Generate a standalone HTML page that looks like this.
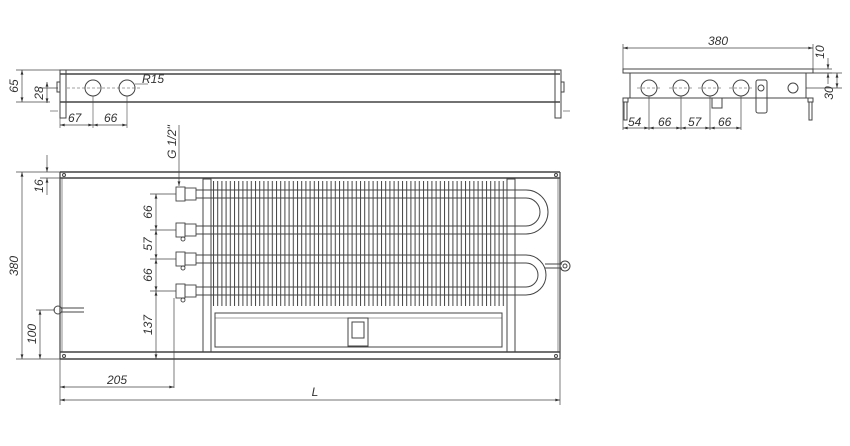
<!DOCTYPE html>
<html><head><meta charset="utf-8"><style>
html,body{margin:0;padding:0;background:#fff;width:850px;height:446px;overflow:hidden}
svg{display:block}
text{font-family:"Liberation Sans",sans-serif;font-style:italic;font-size:12px;fill:#333}
</style></head><body>
<svg width="850" height="446" viewBox="0 0 850 446" xmlns="http://www.w3.org/2000/svg">
<defs>
<marker id="a" viewBox="0 0 10 6" refX="10" refY="3" markerWidth="8" markerHeight="4" orient="auto-start-reverse"><path d="M0,0L10,3L0,6z" fill="#333"/></marker>
<pattern id="fins" x="213" y="0" width="4.2" height="10" patternUnits="userSpaceOnUse"><rect x="0" y="0" width="1" height="10" fill="#444"/></pattern>
</defs>
<rect x="213" y="181" width="293" height="125" fill="url(#fins)"/>
<g stroke="#444" fill="none" stroke-width="1">
<!-- top elevation -->
<line x1="60" y1="70" x2="560" y2="70"/>
<line x1="60" y1="74" x2="560" y2="74" stroke-width="1.6"/>
<line x1="60" y1="102" x2="560" y2="102" stroke-width="1.6"/>
<rect x="60" y="70" width="6" height="48"/>
<rect x="555" y="70" width="6" height="48"/>
<rect x="57" y="82" width="3" height="10"/><rect x="561" y="82" width="3" height="10"/>
<circle cx="93" cy="88" r="8"/><circle cx="127" cy="88" r="8"/>
<line x1="67" y1="88" x2="140" y2="88" stroke-dasharray="3,2" stroke-width="0.6"/>
<line x1="93" y1="96" x2="93" y2="128" stroke-width="0.6"/><line x1="127" y1="96" x2="127" y2="128" stroke-width="0.6"/>
<line x1="60" y1="118" x2="60" y2="128" stroke-width="0.6"/>
<line x1="135" y1="84" x2="148" y2="84" stroke-width="0.6"/>
<line x1="50" y1="111" x2="58" y2="111" stroke-width="0.6"/><line x1="563" y1="111" x2="570" y2="111" stroke-width="0.6"/>
<g stroke-width="0.7">
<line x1="16" y1="70" x2="60" y2="70"/><line x1="16" y1="102" x2="50" y2="102"/>
<line x1="22" y1="70" x2="22" y2="102" marker-start="url(#a)" marker-end="url(#a)"/>
<line x1="40" y1="88" x2="58" y2="88"/>
<line x1="47" y1="82" x2="47" y2="103" marker-start="url(#a)" marker-end="url(#a)"/>
<line x1="60" y1="125" x2="93" y2="125" marker-start="url(#a)" marker-end="url(#a)"/>
<line x1="93" y1="125" x2="127" y2="125" marker-start="url(#a)" marker-end="url(#a)"/>
</g>
<!-- side view -->
<rect x="623" y="69" width="190" height="4"/>
<rect x="630" y="73" width="176" height="25"/>
<line x1="623" y1="98" x2="813" y2="98"/>
<rect x="623" y="98" width="5" height="4"/><rect x="808" y="98" width="5" height="4"/>
<rect x="624" y="102" width="3" height="18"/><rect x="809" y="102" width="3" height="18"/>
<circle cx="649" cy="88" r="8"/><circle cx="681" cy="88" r="8"/><circle cx="710" cy="88" r="8"/><circle cx="741" cy="88" r="8"/>
<path d="M637 88H661M669 88H693M698 88H722M729 88H753" stroke-dasharray="3,2" stroke-width="0.6"/>
<circle cx="793" cy="88" r="5"/>
<rect x="712" y="98" width="10" height="10"/>
<rect x="756" y="80" width="11" height="33" rx="2"/><circle cx="761" cy="88" r="3"/>
<g stroke-width="0.7">
<line x1="623" y1="44" x2="623" y2="69"/><line x1="813" y1="44" x2="813" y2="69"/>
<line x1="623" y1="48" x2="813" y2="48" marker-start="url(#a)" marker-end="url(#a)"/>
<line x1="623" y1="102" x2="623" y2="130"/>
<line x1="649" y1="96" x2="649" y2="130"/><line x1="681" y1="96" x2="681" y2="130"/><line x1="710" y1="96" x2="710" y2="130"/><line x1="741" y1="96" x2="741" y2="130"/>
<line x1="623" y1="128" x2="649" y2="128" marker-start="url(#a)" marker-end="url(#a)"/>
<line x1="649" y1="128" x2="681" y2="128" marker-start="url(#a)" marker-end="url(#a)"/>
<line x1="681" y1="128" x2="710" y2="128" marker-start="url(#a)" marker-end="url(#a)"/>
<line x1="710" y1="128" x2="741" y2="128" marker-start="url(#a)" marker-end="url(#a)"/>
<line x1="813" y1="69" x2="832" y2="69"/><line x1="813" y1="73" x2="832" y2="73"/>
<line x1="828" y1="58" x2="828" y2="69" marker-end="url(#a)"/><line x1="828" y1="84" x2="828" y2="73" marker-end="url(#a)"/>
<line x1="806" y1="88" x2="842" y2="88"/><line x1="813" y1="73" x2="842" y2="73"/>
<line x1="837" y1="73" x2="837" y2="88" marker-start="url(#a)" marker-end="url(#a)"/>
</g>
<!-- plan -->
<line x1="60" y1="172" x2="560" y2="172" stroke-width="1.6"/>
<line x1="60" y1="178" x2="560" y2="178" stroke-width="1.6"/>
<line x1="60" y1="352" x2="560" y2="352" stroke-width="1.6"/>
<line x1="60" y1="359" x2="560" y2="359" stroke-width="1.6"/>
<line x1="60" y1="172" x2="60" y2="359" stroke-width="1.2"/>
<line x1="560" y1="172" x2="560" y2="359" stroke-width="1.2"/>
<line x1="62" y1="178" x2="62" y2="352" stroke-width="0.6"/><line x1="558" y1="178" x2="558" y2="352" stroke-width="0.6"/>
<circle cx="64" cy="175" r="1.5"/><circle cx="556" cy="175" r="1.5"/><circle cx="64" cy="356" r="1.5"/><circle cx="556" cy="356" r="1.5"/>
<rect x="203" y="179" width="8" height="173"/>
<rect x="507" y="179" width="8" height="173"/>
<rect x="215" y="313" width="287" height="34"/>
<line x1="215" y1="318" x2="502" y2="318" stroke-width="0.6"/>
<rect x="348" y="318" width="20" height="28"/><rect x="352" y="322" width="12" height="16"/>
<path stroke-width="0.9" d="M196 190H522M196 198H522M196 226H522M196 234H522M196 255H522M196 263H522M196 287H522M196 295H522"/>
<path d="M520 190H526A22 22 0 0 1 526 234H520M520 198H526A14 14 0 0 1 526 226H520"/>
<path d="M520 255H526A20 20 0 0 1 526 295H520M520 263H526A12 12 0 0 1 526 287H520"/>
<line x1="545" y1="264" x2="562" y2="264"/><line x1="545" y1="268" x2="562" y2="268"/>
<circle cx="565" cy="266" r="5"/><circle cx="565" cy="266" r="2"/>
<g stroke-width="0.9">
<rect x="176" y="187" width="9" height="14"/><rect x="185" y="188" width="11" height="12"/>
<rect x="176" y="223" width="9" height="14"/><rect x="185" y="224" width="11" height="12"/>
<rect x="176" y="252" width="9" height="14"/><rect x="185" y="253" width="11" height="12"/>
<rect x="176" y="284" width="9" height="14"/><rect x="185" y="285" width="11" height="12"/>
<circle cx="183" cy="239" r="2"/><circle cx="183" cy="268" r="2"/><circle cx="183" cy="300" r="2"/>
</g>
<circle cx="58" cy="310" r="4"/><line x1="62" y1="308" x2="84" y2="308"/><line x1="62" y1="312" x2="84" y2="312"/>
<g stroke-width="0.7">
<line x1="16" y1="172" x2="60" y2="172"/><line x1="16" y1="359" x2="60" y2="359"/>
<line x1="22" y1="172" x2="22" y2="359" marker-start="url(#a)" marker-end="url(#a)"/>
<line x1="40" y1="178" x2="60" y2="178"/>
<line x1="47" y1="155" x2="47" y2="172" marker-end="url(#a)"/><line x1="47" y1="195" x2="47" y2="178" marker-end="url(#a)"/>
<line x1="36" y1="310" x2="55" y2="310"/>
<line x1="40" y1="310" x2="40" y2="359" marker-start="url(#a)" marker-end="url(#a)"/>
<line x1="150" y1="194" x2="176" y2="194"/><line x1="150" y1="230" x2="176" y2="230"/><line x1="150" y1="259" x2="176" y2="259"/><line x1="150" y1="291" x2="176" y2="291"/>
<line x1="156" y1="194" x2="156" y2="230" marker-start="url(#a)" marker-end="url(#a)"/>
<line x1="156" y1="230" x2="156" y2="259" marker-start="url(#a)" marker-end="url(#a)"/>
<line x1="156" y1="259" x2="156" y2="291" marker-start="url(#a)" marker-end="url(#a)"/>
<line x1="156" y1="291" x2="156" y2="359" marker-start="url(#a)" marker-end="url(#a)"/>
<line x1="179" y1="125" x2="179" y2="186" marker-end="url(#a)"/>
<line x1="174" y1="298" x2="174" y2="388"/>
<line x1="60" y1="359" x2="60" y2="405"/><line x1="560" y1="359" x2="560" y2="405"/>
<line x1="60" y1="387" x2="174" y2="387" marker-start="url(#a)" marker-end="url(#a)"/>
<line x1="60" y1="400" x2="560" y2="400" marker-start="url(#a)" marker-end="url(#a)"/>
</g>
</g>
<text x="18" y="86" transform="rotate(-90 18 86)" text-anchor="middle">65</text>
<text x="43" y="93" transform="rotate(-90 43 93)" text-anchor="middle">28</text>
<text x="68" y="122">67</text><text x="104" y="122">66</text>
<text x="142" y="83">R15</text>
<text x="718" y="45" text-anchor="middle">380</text>
<text x="628" y="126">54</text><text x="658" y="126">66</text><text x="688" y="126">57</text><text x="718" y="126">66</text>
<text x="824" y="52" transform="rotate(-90 824 52)" text-anchor="middle">10</text>
<text x="833" y="93" transform="rotate(-90 833 93)" text-anchor="middle">30</text>
<text x="176" y="142" transform="rotate(-90 176 142)" text-anchor="middle">G 1/2"</text>
<text x="18" y="266" transform="rotate(-90 18 266)" text-anchor="middle">380</text>
<text x="43" y="186" transform="rotate(-90 43 186)" text-anchor="middle">16</text>
<text x="36" y="334" transform="rotate(-90 36 334)" text-anchor="middle">100</text>
<text x="152" y="212" transform="rotate(-90 152 212)" text-anchor="middle">66</text>
<text x="152" y="244" transform="rotate(-90 152 244)" text-anchor="middle">57</text>
<text x="152" y="275" transform="rotate(-90 152 275)" text-anchor="middle">66</text>
<text x="152" y="325" transform="rotate(-90 152 325)" text-anchor="middle">137</text>
<text x="117" y="384" text-anchor="middle">205</text>
<text x="315" y="396" text-anchor="middle">L</text>
</svg>
</body></html>
